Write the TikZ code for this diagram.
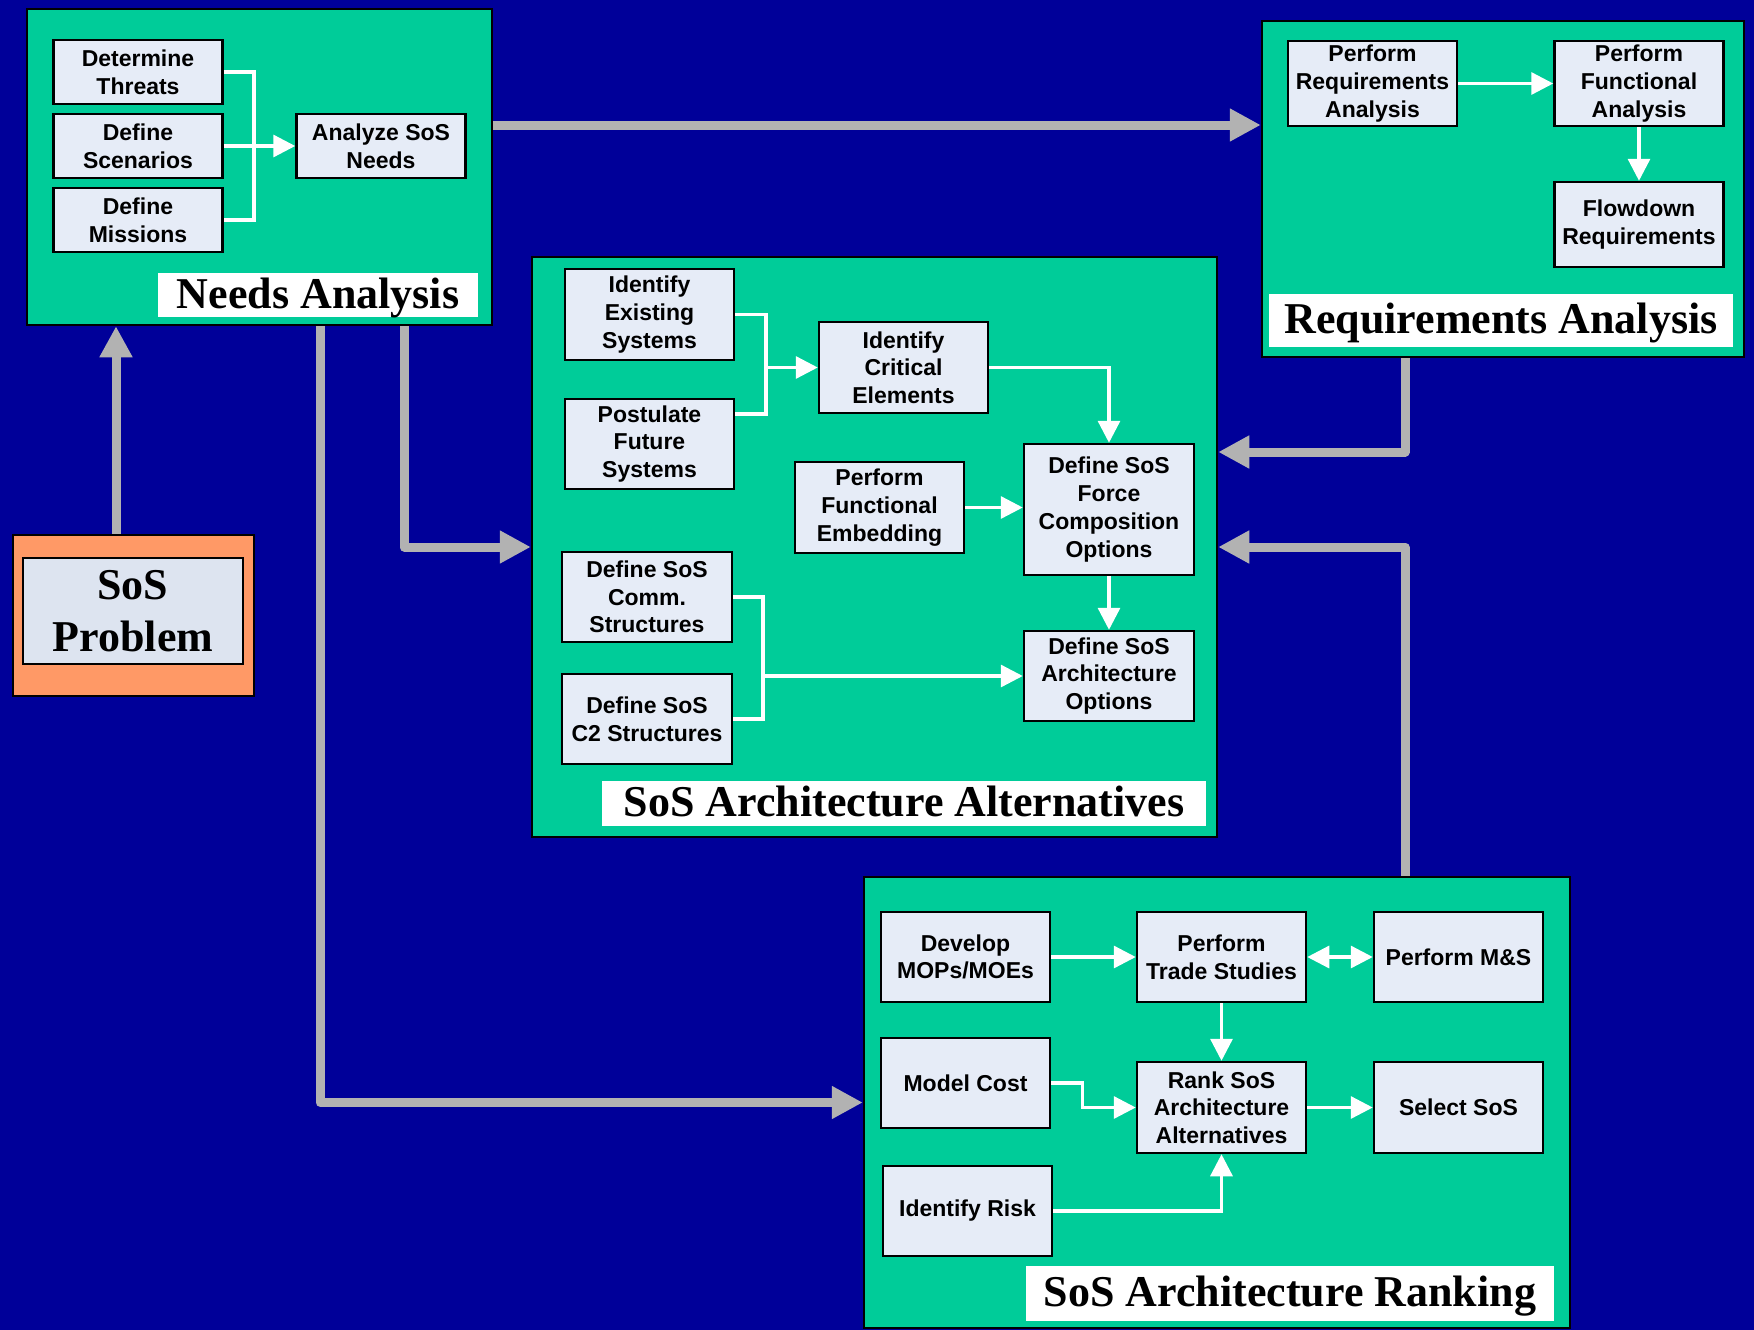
\documentclass[tikz,border=0pt]{standalone}
\usepackage{fontspec}
\setmainfont{Liberation Serif}
\setsansfont{Liberation Sans}
\usetikzlibrary{arrows.meta}
\pgfdeclarelayer{bg}
\pgfsetlayers{bg,main}
\definecolor{navybg}{HTML}{000099}
\definecolor{panelgreen}{HTML}{00CC99}
\definecolor{boxfill}{HTML}{E6ECF7}
\definecolor{probfill}{HTML}{DDE4F0}
\definecolor{orangefill}{HTML}{FF9966}
\definecolor{arrowgray}{HTML}{B2B2B2}

\begin{document}
\begin{tikzpicture}
  [x=1pt,y=-1pt,
   wtip/.tip={Triangle[length=22pt,width=22pt]},
   gtip/.tip={Triangle[length=31pt,width=31pt]},
   box/.style={draw=black,line width=2.5pt,fill=boxfill,inner sep=0pt,
     minimum width=169pt,minimum height=90pt,align=center,
     font=\sffamily\bfseries\fontsize{23}{27.7}\selectfont},
   panel/.style={draw=black,line width=2.5pt,fill=panelgreen,inner sep=0pt},
   paneltitle/.style={fill=white,inner sep=0pt,text height=30pt,text depth=4pt,
     font=\bfseries\fontsize{44}{50}\selectfont},
   wjoin/.style={draw=white,line width=3.3pt},
   wline/.style={wjoin,-wtip},
   gline/.style={draw=arrowgray,line width=9pt,line cap=round,
     line join=round,-gtip}]
  \useasboundingbox (0,0) rectangle (1754,1330);

  \node[panel,minimum width=465pt,minimum height=316pt] (na) at (259.5,167) {};
  \node[panel,minimum width=482pt,minimum height=336pt] (ra) at (1503,189) {};
  \node[panel,minimum width=685pt,minimum height=580pt] (aa) at (874.5,547) {};
  \node[panel,minimum width=706pt,minimum height=451pt] (ar) at (1217,1102.5) {};
  \node[panel,fill=orangefill,minimum width=241pt,minimum height=161pt] (po) at (133.5,615.5) {};
  \node[box,fill=probfill,minimum width=220pt,minimum height=106pt,
    font=\bfseries\fontsize{44}{52}\selectfont] (pb) at (133,611) {SoS\\Problem};

  \node[box,minimum height=64pt] (thr) at (138,72) {Determine\\Threats};
  \node[box,minimum height=64pt] (scn) at (138,146) {Define\\Scenarios};
  \node[box,minimum height=64pt] (msn) at (138,220) {Define\\Missions};
  \node[box,minimum height=64pt] (anz) at (381,146) {Analyze SoS\\Needs};
  \node[paneltitle,minimum width=320pt,minimum height=44pt] (nat) at (318,295) {Needs Analysis};

  \node[box,minimum height=85pt] (pra) at (1372.5,83.5) {Perform\\Requirements\\Analysis};
  \node[box,minimum height=85pt] (pfa) at (1639,83.5) {Perform\\Functional\\Analysis};
  \node[box,minimum height=85pt] (flr) at (1639,224.5) {Flowdown\\Requirements};
  \node[paneltitle,minimum width=464pt,minimum height=53pt] (rat) at (1501,320.5) {Requirements Analysis};

  \node[box,minimum height=91pt] (ies) at (649.5,314.5) {Identify\\Existing\\Systems};
  \node[box] (pfs) at (649.5,444) {Postulate\\Future\\Systems};
  \node[box,minimum height=91pt] (ice) at (903.5,367.5) {Identify\\Critical\\Elements};
  \node[box,minimum height=91pt] (pfe) at (879.5,507.5) {Perform\\Functional\\Embedding};
  \node[box,minimum width=170pt,minimum height=131pt] (fco) at (1109,509.5) {Define SoS\\Force\\Composition\\Options};
  \node[box,minimum width=170pt] (csc) at (647,597) {Define SoS\\Comm.\\Structures};
  \node[box,minimum width=170pt] (c2s) at (647,719) {Define SoS\\C2 Structures};
  \node[box,minimum width=170pt] (sao) at (1109,676) {Define SoS\\Architecture\\Options};
  \node[paneltitle,minimum width=604pt,minimum height=45pt] (aat) at (904,803.5) {SoS Architecture Alternatives};

  \node[box] (dev) at (965.5,957) {Develop\\MOPs/MOEs};
  \node[box] (pts) at (1221.5,957) {Perform\\Trade Studies};
  \node[box] (pms) at (1458.5,957) {Perform M\&S};
  \node[box] (mcs) at (965.5,1083) {Model Cost};
  \node[box,minimum height=91pt] (rsa) at (1221.5,1107.5) {Rank SoS\\Architecture\\Alternatives};
  \node[box,minimum height=91pt] (ssl) at (1458.5,1107.5) {Select SoS};
  \node[box] (irk) at (967.5,1211) {Identify Risk};
  \node[paneltitle,minimum width=528pt,minimum height=55pt] (art) at (1290,1293.5) {SoS Architecture Ranking};

  \coordinate (jn) at (254,146);
  \draw[wjoin] (thr.east) -| (jn) |- (msn.east);
  \draw[wline] (scn.east) -- (anz.west);

  \draw[wline] (pra.east) -- (pfa.west);
  \draw[wline] (pfa.south) -- (flr.north);

  \coordinate (je) at (766,367.5);
  \draw[wjoin] (ies.east) -| (je) |- ([yshift=30pt]pfs.east);
  \draw[wline] (je) -- (ice.west);
  \draw[wline] (ice.east) -| (fco.north);
  \draw[wline] (pfe.east) -- (pfe.east -| fco.west);
  \draw[wline] (fco.south) -- (sao.north);
  \coordinate (jc) at (763,676);
  \draw[wjoin] (csc.east) -| (jc) |- (c2s.east);
  \draw[wline] (jc) -- (sao.west);

  \draw[wline] (dev.east) -- (pts.west);
  \draw[wline,wtip-wtip] (pts.east) -- (pms.west);
  \draw[wline] (pts.south) -- (rsa.north);
  \draw[wline] (mcs.east) -- ++(31,0) |- (rsa.west);
  \draw[wline] (irk.east) -| (rsa.south);
  \draw[wline] (rsa.east) -- (ssl.west);

  \begin{pgfonlayer}{bg}
    \fill[navybg] (0,0) rectangle (1754,1330);
    \draw[gline] ([xshift=-17.5pt]po.north) -- ([xshift=-17.5pt]po.north |- na.south);
    \draw[gline] ([yshift=42pt]na.east) -- ([yshift=42pt]na.east -| ra.west);
    \draw[gline] ([xshift=144.5pt]na.south) |- (aa.west);
    \draw[gline] ([xshift=60.5pt]na.south) |- (ar.west);
    \draw[gline] ([xshift=-98pt]ra.south) |- ([yshift=95pt]aa.east);
    \draw[gline] ([xshift=188pt]ar.north) |- (aa.east);
  \end{pgfonlayer}
\end{tikzpicture}
\end{document}
